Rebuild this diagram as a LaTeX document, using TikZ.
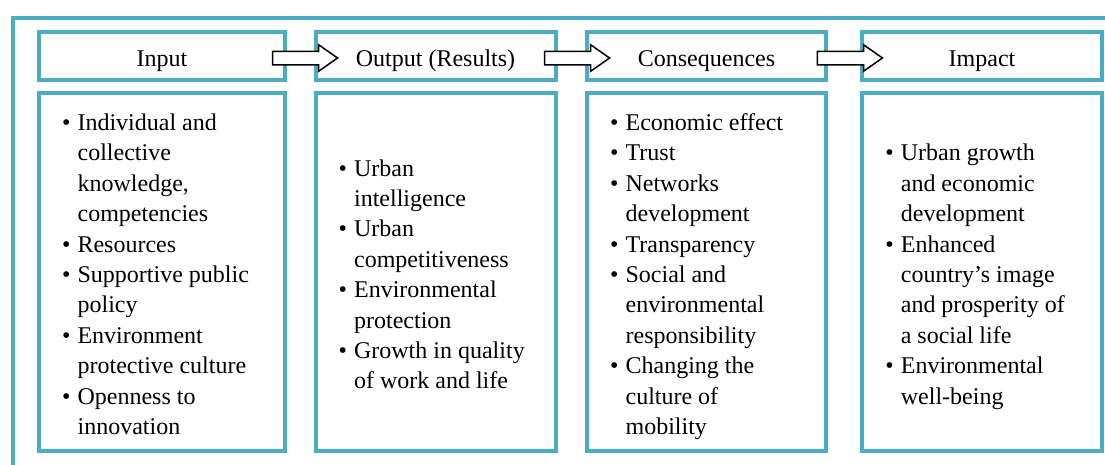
\documentclass[tikz,border=0pt]{standalone}
\usepackage{fontspec}
\setmainfont{Liberation Serif}
\usetikzlibrary{shapes.arrows,calc}
\definecolor{boxblue}{RGB}{75,172,198}

\begin{document}
\begin{tikzpicture}[x=1pt,y=-1pt,
		headbox/.style={draw=boxblue,line width=4pt,minimum height=48pt,inner sep=0pt,outer sep=0pt,text height=21pt,text depth=0pt,font=\fontsize{24}{28}\selectfont},
		bodybox/.style={draw=boxblue,line width=4pt,minimum height=358pt,inner sep=0pt,outer sep=0pt},
		itemtext/.style={anchor=west,inner sep=0pt,font=\fontsize{24}{30.4}\selectfont},
		blockarrow/.style={single arrow,draw=black,fill=white,line width=1.5pt,minimum height=65pt,inner sep=6pt,single arrow head extend=6.5pt,single arrow tip angle=70}]
			\useasboundingbox (0,0) rectangle (1105,464);
			\clip (0,0) rectangle (1105,464);
			% frame round everything
			\draw[boxblue,line width=4pt] (13,18) rectangle (1140,500);
			% headers
			\node[headbox,minimum width=246pt] (hin) at (162,56) {Input};
			\node[headbox,minimum width=240pt] (hout) at (435.5,56) {Output (Results)};
			\node[headbox,minimum width=239pt] (hcon) at (706.5,56) {Consequences};
			\node[headbox,minimum width=239.5pt] (himp) at (982,56) {Impact};
			% bodies
			\node[bodybox,minimum width=246pt] (bin) at (162,272) {};
			\node[bodybox,minimum width=240pt] (bout) at (435.5,272) {};
			\node[bodybox,minimum width=239pt] (bcon) at (706.5,272) {};
			\node[bodybox,minimum width=239.5pt] (bimp) at (982,272) {};
			% arrows between headers
			\node[blockarrow] (a1) at ($(hin.east)!0.5!(hout.west)+(0,2)$) {};
			\node[blockarrow] (a2) at ($(hout.east)!0.5!(hcon.west)+(1,2)$) {};
			\node[blockarrow] (a3) at ($(hcon.east)!0.5!(himp.west)+(1,2)$) {};
			% lists
			\node[itemtext] (tin) at ([xshift=23pt,yshift=-4.5pt]bin.west) {\begin{tabular}{@{}l@{\hspace{7pt}}l@{}}
				\textbullet & Individual and\\
				& collective\\
				& knowledge,\\
				& competencies\\
				\textbullet & Resources\\
				\textbullet & Supportive public\\
				& policy\\
				\textbullet & Environment\\
				& protective culture\\
				\textbullet & Openness to\\
				& innovation
			\end{tabular}};
			\node[itemtext] (tout) at ([xshift=23pt,yshift=-4.5pt]bout.west) {\begin{tabular}{@{}l@{\hspace{7pt}}l@{}}
				\textbullet & Urban\\
				& intelligence\\
				\textbullet & Urban\\
				& competitiveness\\
				\textbullet & Environmental\\
				& protection\\
				\textbullet & Growth in quality\\
				& of work and life
			\end{tabular}};
			\node[itemtext] (tcon) at ([xshift=23pt,yshift=-4.5pt]bcon.west) {\begin{tabular}{@{}l@{\hspace{7pt}}l@{}}
				\textbullet & Economic effect\\
				\textbullet & Trust\\
				\textbullet & Networks\\
				& development\\
				\textbullet & Transparency\\
				\textbullet & Social and\\
				& environmental\\
				& responsibility\\
				\textbullet & Changing the\\
				& culture of\\
				& mobility
			\end{tabular}};
			\node[itemtext] (timp) at ([xshift=23pt,yshift=-4.5pt]bimp.west) {\begin{tabular}{@{}l@{\hspace{7pt}}l@{}}
				\textbullet & Urban growth\\
				& and economic\\
				& development\\
				\textbullet & Enhanced\\
				& country's image\\
				& and prosperity of\\
				& a social life\\
				\textbullet & Environmental\\
				& well-being
			\end{tabular}};
		\end{tikzpicture}
\end{document}
